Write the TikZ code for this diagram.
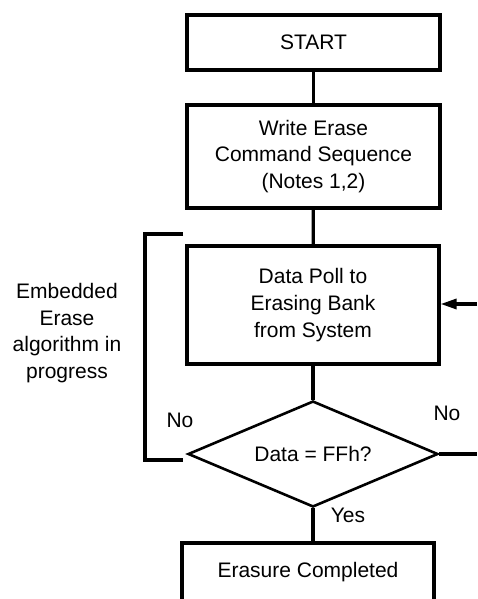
\documentclass[tikz,border=0pt]{standalone}
\usepackage{fontspec}
\setmainfont{Liberation Sans}
\usetikzlibrary{shapes.geometric}
\usetikzlibrary{arrows.meta}

\begin{document}
\begin{tikzpicture}[x=1pt,y=-1pt,line width=3.2pt,
            every node/.style={font=\fontsize{21}{26.7}\selectfont},
            flowbox/.style={draw,rectangle,align=center,minimum width=253pt,inner sep=0pt}]
            \useasboundingbox (0,0) rectangle (477,599);
            \clip (0,0) rectangle (477,599);
            \node[flowbox,minimum height=55pt] (start) at (313.5,42.5) {START};
            \node[flowbox,minimum height=103pt] (write) at (313.5,156.5) {Write Erase\\Command Sequence\\(Notes 1,2)};
            \node[flowbox,minimum height=118pt,minimum width=252pt] (poll) at (313,305) {Data Poll to\\Erasing Bank\\from System};
            \node[draw,diamond,aspect=2.36,minimum width=250pt,minimum height=106pt,inner sep=0pt,line width=2.6pt] (test) at (313,454) {Data = FFh?};
            \node[flowbox,minimum height=58pt,minimum width=252pt] (done) at (308,572) {Erasure Completed};
            \draw (start) -- (write);
            \draw (write) -- (poll);
            \draw (poll) -- (test);
            \draw (test.south) -- (test.south |- done.north);
            % loop back while erasing
            \coordinate (loopA) at (183,234);
            \coordinate (loopB) at (183,460);
            \draw (loopA) -- ++(-38,0) |- (loopB);
            \node[align=center] (embed) at (67,333) {Embedded\\Erase\\algorithm in\\progress};
            \node (nol) at (180,420) {No};
            \node (nor) at (447,413) {No};
            \node (yes) at (348,515) {Yes};
            % right side
            \coordinate (outR) at (477,454);
            \coordinate (inR) at (477,304);
            \draw (test.east) -- (outR);
            \draw[-{Triangle[length=16pt,width=10pt]}] (inR) -- (poll.east |- inR);
        \end{tikzpicture}
\end{document}
